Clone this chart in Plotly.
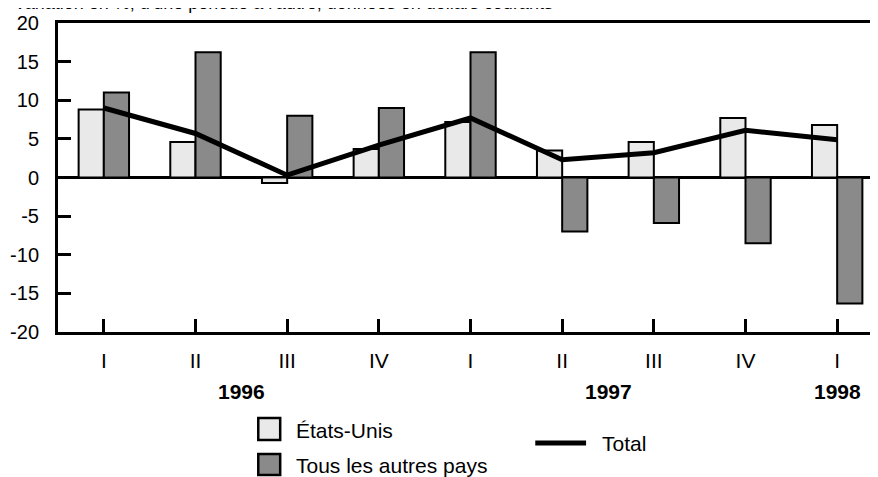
import plotly.graph_objects as go

# ---- data ----
quarters = ["I", "II", "III", "IV", "I", "II", "III", "IV", "I"]
us_values = [8.8, 4.6, -0.7, 3.7, 7.2, 3.5, 4.6, 7.7, 6.8]
other_values = [11.0, 16.2, 8.0, 9.0, 16.2, -7.0, -5.9, -8.5, -16.3]
total_values = [9.0, 5.7, 0.3, 4.2, 7.7, 2.3, 3.2, 6.1, 4.9]
year_labels = ["1996", "1997", "1998"]
year_centers = [1.5, 5.5, 8.0]
series_names = ["États-Unis", "Tous les autres pays", "Total"]
y_ticks = [-20, -15, -10, -5, 0, 5, 10, 15, 20]
y_tick_labels = ["-20", "-15", "-10", "-5", "0", "5", "10", "15", "20"]
subtitle = "Variation en %, d'une période à l'autre, données en dollars courants"

x_idx = list(range(len(quarters)))

FONT = "Liberation Sans, Arial, sans-serif"
LIGHT = "#e9e9e9"
DARK = "#8a8a8a"

# page body has an 8px margin: screen = figure + 8
OFF = 8
FW, FH = 878, 477
L, R, T, B = 58 - OFF, 886 - OFF, 23 - OFF, 332 - OFF
W, H = R - L, B - T


def px(screen_x):
    return (screen_x - OFF - L) / W


def py(screen_y):
    return (B - (screen_y - OFF)) / H


fig = go.Figure()
fig.add_trace(go.Bar(x=x_idx, y=us_values, name=series_names[0],
                     marker=dict(color=LIGHT, line=dict(color="black", width=2)),
                     showlegend=False))
fig.add_trace(go.Bar(x=x_idx, y=other_values, name=series_names[1],
                     marker=dict(color=DARK, line=dict(color="black", width=2)),
                     showlegend=False))
fig.add_trace(go.Scatter(x=x_idx, y=total_values, name=series_names[2], mode="lines",
                         line=dict(color="black", width=5), showlegend=False))

fig.update_layout(
    width=FW, height=FH,
    margin=dict(l=L, r=FW - R, t=T, b=FH - B, pad=0),
    paper_bgcolor="white", plot_bgcolor="white",
    barmode="group", bargap=0.45, bargroupgap=0,
    font=dict(family=FONT, size=20, color="black"),
    xaxis=dict(range=[-0.5, len(quarters) - 0.5], tickvals=x_idx, ticktext=quarters,
               ticks="inside", ticklen=13, tickwidth=3, tickcolor="black",
               showline=True, linecolor="black", linewidth=3, mirror=True,
               showgrid=False, zeroline=False,
               tickfont=dict(size=21), ticklabelstandoff=8),
    yaxis=dict(range=[-20, 20], tickvals=y_ticks, ticktext=y_tick_labels,
               ticks="inside", ticklen=13, tickwidth=3, tickcolor="black",
               showline=True, linecolor="black", linewidth=3, mirror="ticks",
               showgrid=False, zeroline=True, zerolinecolor="black",
               zerolinewidth=3, tickfont=dict(size=20), ticklabelstandoff=12),
)

annotations = []
for lbl, xc in zip(year_labels, year_centers):
    annotations.append(dict(x=xc, y=py(391), xref="x", yref="paper", text=f"<b>{lbl}</b>",
                            showarrow=False, font=dict(size=21), xanchor="center",
                            yanchor="middle"))

# legend (manual)
annotations += [
    dict(x=px(295), y=py(430), xref="paper", yref="paper", text=series_names[0],
         showarrow=False, xanchor="left", yanchor="middle", font=dict(size=21)),
    dict(x=px(295), y=py(465), xref="paper", yref="paper", text=series_names[1],
         showarrow=False, xanchor="left", yanchor="middle", font=dict(size=21)),
    dict(x=px(602), y=py(443), xref="paper", yref="paper", text=series_names[2],
         showarrow=False, xanchor="left", yanchor="middle", font=dict(size=21)),
    # subtitle mostly cut off by the top edge, as in the reference
    dict(x=px(12), y=py(15), xref="paper", yref="paper", text=subtitle,
         showarrow=False, xanchor="left", yanchor="bottom", font=dict(size=18)),
]
fig.update_layout(annotations=annotations)

shapes = [
    dict(type="rect", xref="paper", yref="paper", x0=px(259), x1=px(281),
         y0=py(440), y1=py(418), fillcolor=LIGHT, line=dict(color="black", width=2.5)),
    dict(type="rect", xref="paper", yref="paper", x0=px(259), x1=px(281),
         y0=py(475), y1=py(454), fillcolor=DARK, line=dict(color="black", width=2.5)),
    dict(type="line", xref="paper", yref="paper", x0=px(537), x1=px(588),
         y0=py(443), y1=py(443), line=dict(color="black", width=5)),
]
fig.update_layout(shapes=shapes)

fig.write_html("out.html")
